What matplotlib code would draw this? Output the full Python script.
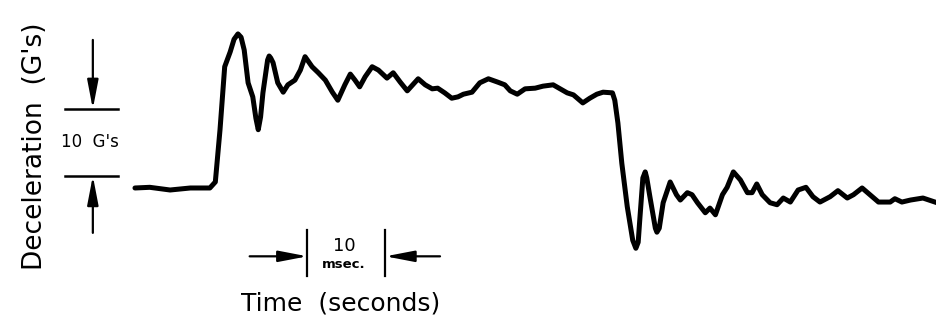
import matplotlib
matplotlib.use("Agg")
import matplotlib.pyplot as plt

# Trace: time (ms from start of record), deceleration (G)
time_ms = [0.0, 1.9, 4.5, 7.1, 9.6, 10.3, 10.9, 11.5, 12.2, 12.7, 13.2, 13.6, 14.0, 14.5,
           15.1, 15.5, 15.8, 16.1, 16.4, 17.0, 17.2, 17.4, 17.7, 18.3, 19.0, 19.6, 20.5,
           21.2, 21.8, 22.7, 23.5, 24.4, 25.3, 26.0, 26.9, 27.6, 28.2, 28.8, 29.5, 30.4,
           31.2, 32.3, 33.1, 34.0, 34.9, 35.6, 36.3, 37.2, 38.1, 38.8, 39.7, 40.6, 41.4,
           42.1, 43.2, 44.2, 45.3, 46.5, 47.4, 48.1, 49.0, 50.0, 51.3, 52.3, 53.6, 54.5,
           55.4, 56.2, 56.8, 57.4, 58.3, 59.2, 60.0, 61.2, 61.5, 61.9, 62.4, 63.1, 63.8,
           64.2, 64.5, 64.7, 65.1, 65.4, 65.6, 66.0, 66.7, 66.9, 67.2, 67.7, 68.6, 69.4,
           69.9, 70.8, 71.4, 72.1, 73.1, 73.7, 74.4, 75.3, 75.9, 76.7, 77.6, 78.5, 79.1,
           79.7, 80.4, 81.4, 82.3, 83.1, 84.0, 85.0, 86.0, 86.9, 87.8, 89.1, 90.1, 91.3,
           92.1, 93.2, 94.2, 95.3, 96.8, 97.4, 98.3, 99.4, 101.0, 102.8]
decel_g = [0.0, 0.1, -0.3, 0.0, 0.0, 0.9, 8.7, 18.1, 20.3, 22.2, 23.0, 22.5, 20.6, 15.7,
           13.6, 10.4, 8.7, 10.6, 14.2, 19.1, 19.7, 19.4, 18.7, 15.7, 14.3, 15.4, 16.1,
           17.6, 19.6, 18.1, 17.2, 16.1, 14.3, 13.1, 15.4, 17.0, 16.1, 15.1, 16.6, 18.1,
           17.6, 16.4, 17.2, 15.8, 14.5, 15.4, 16.3, 15.4, 14.8, 14.9, 14.2, 13.4, 13.6,
           14.0, 14.3, 15.7, 16.3, 15.8, 15.4, 14.5, 14.0, 14.8, 14.9, 15.2, 15.4, 14.8,
           14.2, 13.9, 13.3, 12.7, 13.4, 14.0, 14.3, 14.2, 13.1, 9.7, 3.7, -2.8, -7.8,
           -9.0, -8.1, -4.8, 1.5, 2.4, 1.5, -1.3, -6.0, -6.6, -6.0, -2.2, 0.9, -1.0,
           -1.8, -0.7, -1.0, -2.2, -3.7, -3.0, -4.0, -1.0, 0.1, 2.4, 1.2, -0.7, -0.7,
           0.6, -1.0, -2.2, -2.5, -1.5, -2.1, -0.3, 0.1, -1.3, -2.1, -1.3, -0.4, -1.5,
           -1.0, 0.0, -1.0, -2.1, -2.1, -1.6, -2.1, -1.8, -1.5, -2.2]

# Scale bars
g_scale_low, g_scale_span = 1.8, 10.0
t_scale_start, t_scale_span = 22.1, 10.0

ylabel_text = "Deceleration  (G's)"
xlabel_text = "Time  (seconds)"
g_scale_text = "10  G's"
t_scale_num = "10"
t_scale_unit = "msec."

fig = plt.figure(figsize=(9.37, 3.27), dpi=100)
ax = fig.add_axes([0, 0, 1, 1])
ax.set_xlim(-17.3, 102.8)
ax.set_ylim(-20.75, 28.06)
ax.axis("off")

ax.plot(time_ms, decel_g, color="black", lw=3.6, solid_joinstyle="round",
        solid_capstyle="round")

arrow_kw = dict(arrowstyle="-|>,head_length=1.25,head_width=0.24", color="black",
                lw=1.6, shrinkA=0, shrinkB=0, mutation_scale=14)

# G scale bar
g_hi = g_scale_low + g_scale_span
x_bar = -5.4
ax.plot([-9.0, -2.2], [g_hi, g_hi], color="black", lw=1.8)
ax.plot([-9.0, -2.2], [g_scale_low, g_scale_low], color="black", lw=1.8)
ax.annotate("", xy=(x_bar, g_hi), xytext=(x_bar, 22.1), arrowprops=arrow_kw)
ax.annotate("", xy=(x_bar, g_scale_low), xytext=(x_bar, -6.7), arrowprops=arrow_kw)
ax.text(-5.8, (g_hi + g_scale_low) / 2, g_scale_text, ha="center", va="center",
        fontsize=12)

# Time scale bar
t_end = t_scale_start + t_scale_span
y_arr = -10.2
ax.plot([t_scale_start, t_scale_start], [-6.3, -13.1], color="black", lw=1.6)
ax.plot([t_end, t_end], [-6.3, -13.1], color="black", lw=1.6)
ax.annotate("", xy=(t_scale_start, y_arr), xytext=(14.7, y_arr), arrowprops=arrow_kw)
ax.annotate("", xy=(t_end, y_arr), xytext=(39.1, y_arr), arrowprops=arrow_kw)
ax.text((t_scale_start + t_end) / 2 - 0.3, -8.6, t_scale_num, ha="center", va="center",
        fontsize=13)
ax.text((t_scale_start + t_end) / 2 - 0.3, -11.4, t_scale_unit, ha="center",
        va="center", fontsize=9.5, fontweight="bold")

# Axis labels
ax.text(-12.8, 6.3, ylabel_text, rotation=90, ha="center", va="center", fontsize=19)
ax.text(26.3, -17.2, xlabel_text, ha="center", va="center", fontsize=18)

fig.savefig("out.png", dpi=100, facecolor="white")
